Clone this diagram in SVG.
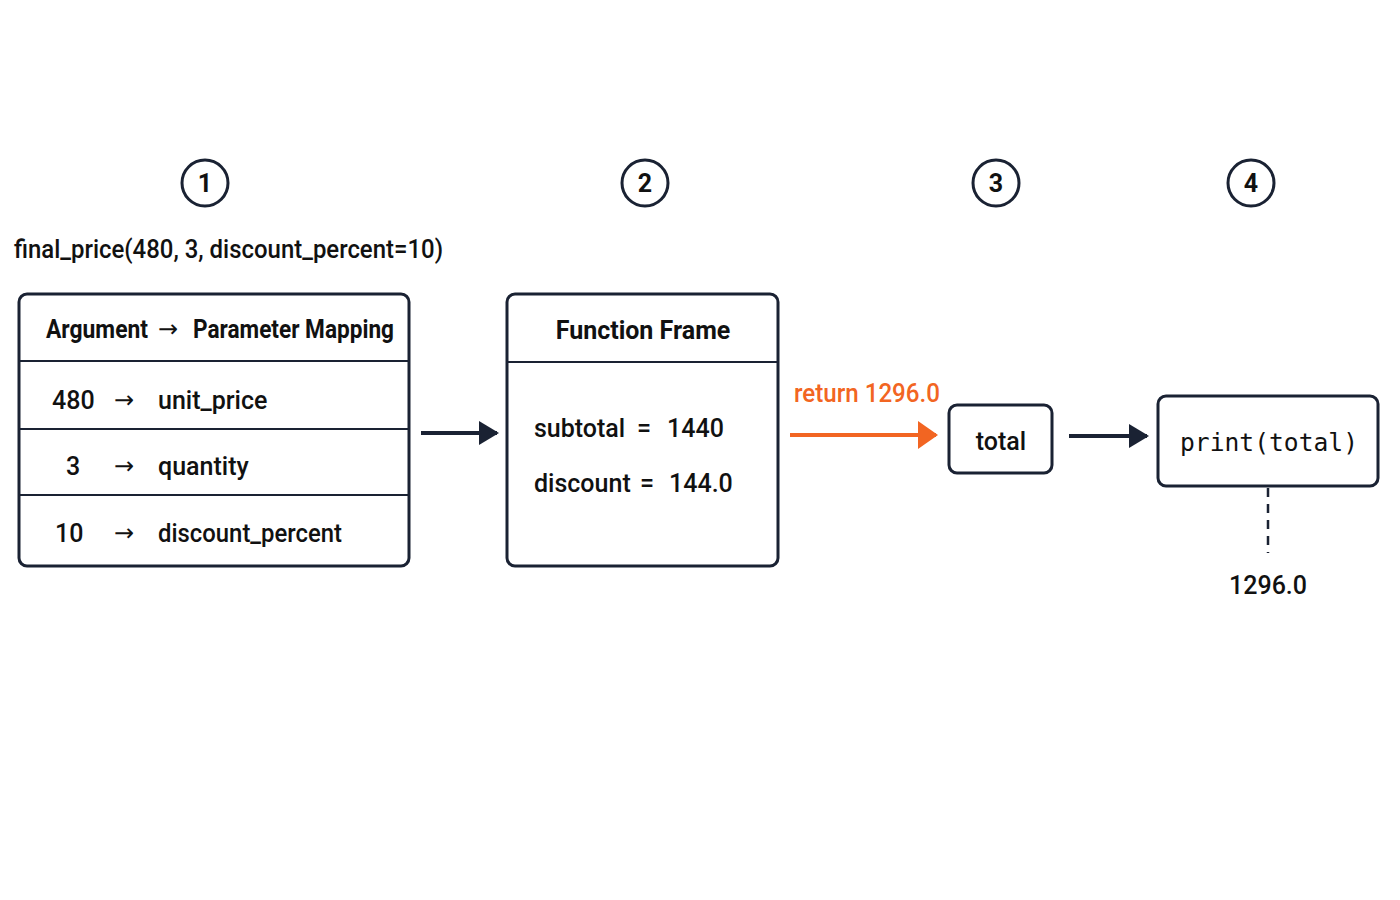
<svg xmlns="http://www.w3.org/2000/svg" width="1400" height="900" viewBox="0 0 1400 900">
<defs>
<style>
.t{font-family:"Roboto","Liberation Sans",sans-serif;fill:#111;font-size:25px;font-weight:500}
.b{font-weight:bold}
.ar{font-family:"DejaVu Sans",sans-serif;font-size:24px;fill:#111}
.box{fill:#fff;stroke:#1a2233;stroke-width:3}
.ln{stroke:#1a2233;stroke-width:2}
.circ{fill:#fff;stroke:#1a2233;stroke-width:3}
.mono{font-family:"DejaVu Sans Mono","Liberation Mono",monospace;font-size:25px;fill:#111}
</style>
<marker id="ah" viewBox="0 0 10 10" refX="9" refY="5" markerWidth="5" markerHeight="6" orient="auto" preserveAspectRatio="none"><path d="M0,0L10,5L0,10z" fill="#1a2233"/></marker>
<marker id="ao" viewBox="0 0 10 10" refX="9" refY="5" markerWidth="5" markerHeight="7" orient="auto" preserveAspectRatio="none"><path d="M0,0L10,5L0,10z" fill="#f26522"/></marker>
</defs>
<rect width="1400" height="900" fill="#fff"/>
<g id="steps">
<circle class="circ" cx="205" cy="183" r="23"/><text class="t b" x="205" y="192" text-anchor="middle">1</text>
<circle class="circ" cx="645" cy="183" r="23"/><text class="t b" x="645" y="192" text-anchor="middle">2</text>
<circle class="circ" cx="996" cy="183" r="23"/><text class="t b" x="996" y="192" text-anchor="middle">3</text>
<circle class="circ" cx="1251" cy="183" r="23"/><text class="t b" x="1251" y="192" text-anchor="middle">4</text>
</g>
<text class="t" x="14" y="258" textLength="429" lengthAdjust="spacingAndGlyphs">final_price(480, 3, discount_percent=10)</text>
<g id="mapping">
<rect class="box" x="19" y="294" width="390" height="272" rx="8"/>
<line class="ln" x1="19" y1="361" x2="409" y2="361" stroke-width="3"/>
<line class="ln" x1="19" y1="429" x2="409" y2="429"/>
<line class="ln" x1="19" y1="495" x2="409" y2="495"/>
<text class="t b" x="46" y="338" font-size="24" textLength="102" lengthAdjust="spacingAndGlyphs">Argument</text>
<text class="ar" x="158" y="337">→</text>
<text class="t b" x="193" y="338" font-size="24" textLength="201" lengthAdjust="spacingAndGlyphs">Parameter Mapping</text>
<text class="t" x="52" y="409">480</text><text class="ar" x="114" y="408">→</text><text class="t" x="158" y="409">unit_price</text>
<text class="t" x="66" y="475">3</text><text class="ar" x="114" y="474">→</text><text class="t" x="158" y="475">quantity</text>
<text class="t" x="55" y="542">10</text><text class="ar" x="114" y="541">→</text><text class="t" x="158" y="542" textLength="184" lengthAdjust="spacingAndGlyphs">discount_percent</text>
</g>
<g id="frame">
<rect class="box" x="507" y="294" width="271" height="272" rx="8"/>
<line class="ln" x1="507" y1="362" x2="778" y2="362" stroke-width="3"/>
<text class="t b" x="643" y="339" text-anchor="middle" font-size="24">Function Frame</text>
<text class="t" x="534" y="437">subtotal</text><text class="t" x="637" y="437">=</text><text class="t" x="667" y="437">1440</text>
<text class="t" x="534" y="492">discount</text><text class="t" x="640" y="492">=</text><text class="t" x="669" y="492">144.0</text>
</g>
<g id="total">
<rect class="box" x="949" y="405" width="103" height="68" rx="8"/>
<text class="t" x="1001" y="450" text-anchor="middle">total</text>
</g>
<g id="print">
<rect class="box" x="1158" y="396" width="220" height="90" rx="8"/>
<text class="mono" x="1269" y="451" text-anchor="middle" textLength="178" lengthAdjust="spacingAndGlyphs">print(total)</text>
</g>
<g id="connectors">
<line x1="421" y1="433" x2="497" y2="433" stroke="#1a2233" stroke-width="4" marker-end="url(#ah)"/>
<line x1="790" y1="435" x2="936" y2="435" stroke="#f26522" stroke-width="4" marker-end="url(#ao)"/>
<line x1="1069" y1="436" x2="1147" y2="436" stroke="#1a2233" stroke-width="4" marker-end="url(#ah)"/>
<line x1="1268" y1="488" x2="1268" y2="553" stroke="#1a2233" stroke-width="2.5" stroke-dasharray="9,7"/>
</g>
<text class="t" x="794" y="402" style="fill:#f26522" textLength="146" lengthAdjust="spacingAndGlyphs">return 1296.0</text>
<text class="t" x="1268" y="594" text-anchor="middle">1296.0</text>
</svg>
